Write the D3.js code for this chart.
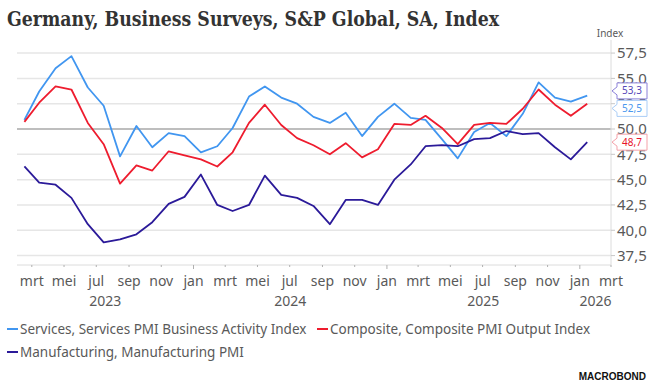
<!DOCTYPE html>
<html lang="nl">
<head>
<meta charset="utf-8"/>
<title>Germany PMI</title>
<script src="https://d3js.org/d3.v7.min.js"></script>
<style>
    body { margin: 0; background: #fff; }
    svg { display: block; }
    text { font-family: "Segoe UI", "Noto Sans", sans-serif; fill: #595959; }
</style>
</head>
<body>
<svg id="chart" width="652" height="385"></svg>
<script>
    // monthly observations, Feb 2023 .. Jan 2026
    const months = [
        "2023-02", "2023-03", "2023-04", "2023-05", "2023-06", "2023-07", "2023-08", "2023-09", "2023-10", "2023-11", "2023-12",
        "2024-01", "2024-02", "2024-03", "2024-04", "2024-05", "2024-06", "2024-07", "2024-08", "2024-09", "2024-10", "2024-11", "2024-12",
        "2025-01", "2025-02", "2025-03", "2025-04", "2025-05", "2025-06", "2025-07", "2025-08", "2025-09", "2025-10", "2025-11", "2025-12",
        "2026-01"
    ];
    const services = [50.9, 53.7, 56.0, 57.2, 54.1, 52.3, 47.3, 50.3, 48.2, 49.6, 49.3,
        47.7, 48.3, 50.1, 53.2, 54.2, 53.1, 52.5, 51.2, 50.6, 51.6, 49.3, 51.2,
        52.5, 51.1, 50.9, 49.0, 47.1, 49.7, 50.6, 49.3, 51.5, 54.6, 53.1, 52.7,
        53.3];
    const composite = [50.7, 52.6, 54.2, 53.9, 50.6, 48.5, 44.6, 46.4, 45.9, 47.8, 47.4,
        47.0, 46.3, 47.7, 50.6, 52.4, 50.4, 49.1, 48.4, 47.5, 48.6, 47.2, 48.0,
        50.5, 50.4, 51.3, 50.1, 48.5, 50.4, 50.6, 50.5, 52.0, 53.9, 52.4, 51.3,
        52.5];
    const manufacturing = [46.3, 44.7, 44.5, 43.2, 40.6, 38.8, 39.1, 39.6, 40.8, 42.6, 43.3,
        45.5, 42.5, 41.9, 42.5, 45.4, 43.5, 43.2, 42.4, 40.6, 43.0, 43.0, 42.5,
        45.0, 46.5, 48.3, 48.4, 48.3, 49.0, 49.1, 49.8, 49.5, 49.6, 48.2, 47.0,
        48.7];

    const seriesNames = [
        "Services, Services PMI Business Activity Index",
        "Composite, Composite PMI Output Index",
        "Manufacturing, Manufacturing PMI"
    ];
    const seriesColors = ["#4196f0", "#ee1c2e", "#2b1a99"];
    // the value tags on the right, as drawn in the original
    const tagStroke = ["#8b80d8", "#a9cdf6", "#f4a1a9"];
    const tagText = ["#5646b8", "#4a98ee", "#e8142c"];

    const yTicks = [37.5, 40, 42.5, 45, 47.5, 50, 52.5, 55, 57.5];
    const monthNames = ["jan", "feb", "mrt", "apr", "mei", "jun", "jul", "aug", "sep", "okt", "nov", "dec"];
    const years = [2023, 2024, 2025, 2026];

    const svg = d3.select("#chart");
    const parse = d3.timeParse("%Y-%m");
    const dates = months.map(m => d3.timeDay.offset(parse(m), 14));
    const allSeries = [services, composite, manufacturing];

    const pLeft = 17, pRight = 611, pTop = 40, pBottom = 265;
    const x = d3.scaleTime()
        .domain([new Date(2023, 1, 1), new Date(2026, 2, 1)])
        .range([pLeft, pRight]);
    const y = d3.scaleLinear().domain([36.57, 58.79]).range([pBottom, pTop]);
    const fmt = v => d3.format(".1f")(v).replace(".", ",");

    // title (squeezed a bit, Georgia is not installed)
    svg.append("text")
        .attr("x", 7).attr("y", 26)
        .attr("textLength", 492)
        .attr("lengthAdjust", "spacingAndGlyphs")
        .style("font-family", "Georgia, 'DejaVu Serif', serif")
        .style("font-weight", "bold")
        .style("font-size", "20px")
        .style("fill", "#333")
        .text("Germany, Business Surveys, S&P Global, SA, Index");

    svg.append("text")
        .attr("x", 610).attr("y", 37)
        .attr("text-anchor", "middle")
        .style("font-size", "10px")
        .text("Index");

    // grid
    svg.append("g").selectAll("line")
        .data(yTicks)
        .enter().append("line")
        .attr("x1", pLeft).attr("x2", pRight)
        .attr("y1", d => y(d)).attr("y2", d => y(d))
        .attr("stroke", d => d === 50 ? "#a8a8a8" : "#e6e6e6")
        .attr("stroke-width", 1.5);

    // right axis
    svg.append("line")
        .attr("x1", pRight).attr("x2", pRight).attr("y1", pTop).attr("y2", pBottom)
        .attr("stroke", "#dcdcdc");
    const yAxis = svg.append("g");
    yAxis.selectAll("line").data(yTicks).enter().append("line")
        .attr("x1", pRight).attr("x2", pRight + 4)
        .attr("y1", d => y(d)).attr("y2", d => y(d))
        .attr("stroke", "#c8c8c8");
    yAxis.selectAll("text").data(yTicks).enter().append("text")
        .attr("x", 617).attr("y", d => y(d))
        .attr("dy", "0.35em")
        .style("font-size", "15px")
        .text(fmt);

    // bottom axis
    svg.append("line")
        .attr("x1", pLeft).attr("x2", pRight).attr("y1", pBottom).attr("y2", pBottom)
        .attr("stroke", "#dcdcdc");
    const ticks = x.ticks(d3.timeMonth.every(2));
    const xAxis = svg.append("g");
    xAxis.selectAll("line").data(ticks).enter().append("line")
        .attr("x1", d => x(d)).attr("x2", d => x(d))
        .attr("y1", pBottom).attr("y2", d => d.getMonth() === 0 ? pBottom + 4 : pBottom + 2)
        .attr("stroke", "#b0b0b0");
    xAxis.selectAll("text").data(ticks).enter().append("text")
        .attr("x", d => x(d)).attr("y", 286)
        .attr("text-anchor", "middle")
        .style("font-size", "14px")
        .text(d => monthNames[d.getMonth()]);
    svg.append("g").selectAll("text").data(years).enter().append("text")
        .attr("x", d => {
            const a = Math.max(x(new Date(d, 0, 1)), pLeft);
            const b = Math.min(x(new Date(d + 1, 0, 1)), pRight);
            return (a + b) / 2;
        })
        .attr("y", 306)
        .attr("text-anchor", "middle")
        .style("font-size", "14px")
        .text(d => d);

    // lines
    const line = d3.line()
        .x((d, i) => x(dates[i]))
        .y(d => y(d));
    svg.append("g").selectAll("path")
        .data(allSeries)
        .enter().append("path")
        .attr("d", line)
        .attr("fill", "none")
        .attr("stroke", (d, i) => seriesColors[i])
        .attr("stroke-width", 1.8)
        .attr("stroke-linejoin", "round");

    // value tags
    let tags = allSeries.map((s, i) => ({ v: s[s.length - 1], i: i, cy: y(s[s.length - 1]) }));
    tags.sort((a, b) => a.cy - b.cy);
    const gap = 17.5;
    for (let k = 1; k < tags.length; k++) {
        if (tags[k].cy - tags[k - 1].cy < gap) {
            const mid = (tags[k].cy + tags[k - 1].cy) / 2;
            tags[k - 1].cy = mid - gap / 2;
            tags[k].cy = mid + gap / 2;
        }
    }
    const tg = svg.append("g").selectAll("g").data(tags).enter().append("g");
    tg.append("path")
        .attr("d", d => {
            const c = d.cy, t = c - 8, b = c + 8;
            return `M${pRight + 1},${c} L617,${c - 4} L617,${t} L647,${t} L647,${b} L617,${b} L617,${c + 4} Z`;
        })
        .attr("fill", "#fff")
        .attr("stroke", d => tagStroke[d.i]);
    tg.append("text")
        .attr("x", 632).attr("y", d => d.cy)
        .attr("dy", "0.35em")
        .attr("text-anchor", "middle")
        .style("font-size", "10px")
        .style("fill", d => tagText[d.i])
        .text(d => fmt(d.v));

    // legend
    const legendPos = [[7, 329], [317, 329], [7, 352]];
    const lg = svg.append("g").selectAll("g").data(seriesNames).enter().append("g")
        .attr("transform", (d, i) => `translate(${legendPos[i][0]},${legendPos[i][1]})`);
    lg.append("line")
        .attr("x1", 0).attr("x2", 11)
        .attr("stroke", (d, i) => seriesColors[i])
        .attr("stroke-width", 2);
    lg.append("text")
        .attr("x", 13).attr("dy", "0.35em")
        .style("font-size", "13.5px")
        .text(d => d);

    // logo
    svg.append("text")
        .attr("x", 646).attr("y", 380)
        .attr("text-anchor", "end")
        .style("font-family", "'Liberation Sans', Arial, sans-serif")
        .style("font-weight", "bold")
        .style("font-size", "10px")
        .style("fill", "#111")
        .text("MACROBOND");
</script>
</body>
</html>
